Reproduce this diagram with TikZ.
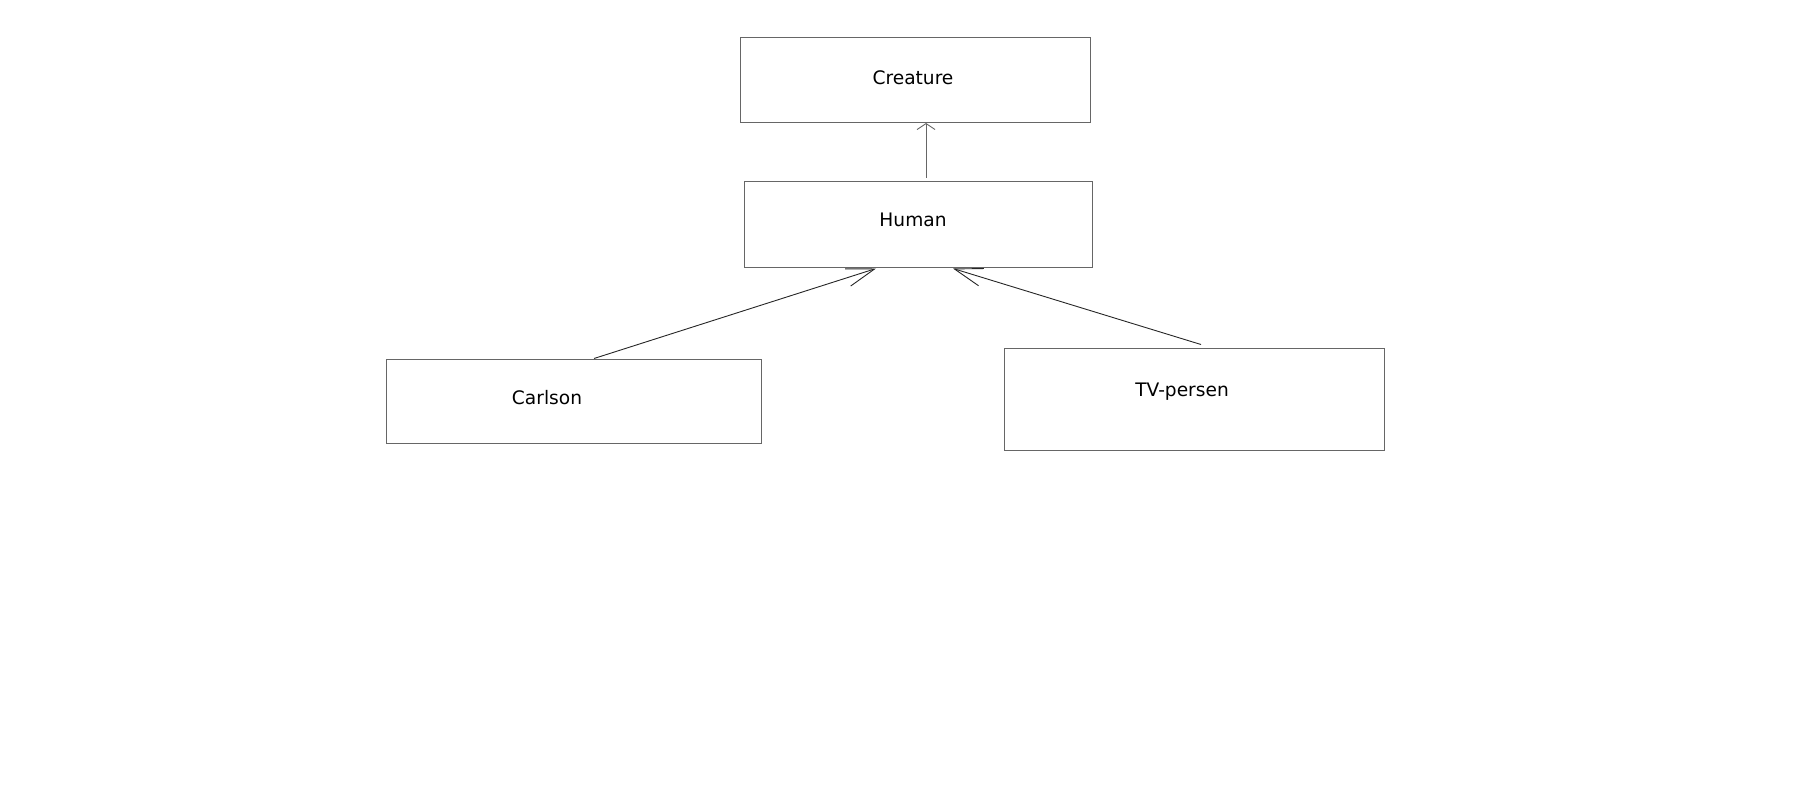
\documentclass[tikz,border=0pt]{standalone}
\usepackage{fontspec}
\setmainfont{DejaVu Sans}
\usepackage{tikz}
\usetikzlibrary{positioning,arrows.meta}

\begin{document}
\begin{tikzpicture}[
x=0.5pt, y=-0.5pt,
font=\fontsize{9.3}{11}\selectfont,
box/.style={draw=black!60, line width=0.5pt, minimum width=#1, inner sep=0pt},
lbl/.style={inner sep=0pt, anchor=center},
arr/.style={-{Straight Barb[length=14pt, width=9pt]}, black!85, line width=0.45pt},
uparr/.style={-{Straight Barb[length=3pt, width=9pt]}, black!60, line width=0.45pt}
]
\useasboundingbox (0,0) rectangle (1797,788);

\node[box=175pt, minimum height=42.5pt] (creature) at (915,80) {};
\node[box=174pt, minimum height=43pt] (human) at (918,224) {};
\node[box=187.5pt, minimum height=42pt] (carlson) at (573.5,401) {};
\node[box=190pt, minimum height=51pt] (tv) at (1194,399) {};

\node[lbl] (creaturetxt) at (913,78) {Creature};
\node[lbl] (humantxt) at (913,220) {Human};
\node[lbl] (carlsontxt) at (547,398) {Carlson};
\node[lbl] (tvtxt) at (1182,392) {TV-persen};

\draw[uparr] ([shift={(8,-3)}]human.north) -- ([shift={(11,0)}]creature.south);
\draw[arr] ([shift={(20.5,0)}]carlson.north) -- ([shift={(-42,1)}]human.south);
\draw[arr] ([shift={(7,-3)}]tv.north) -- ([shift={(35,1)}]human.south);
\end{tikzpicture}
\end{document}
